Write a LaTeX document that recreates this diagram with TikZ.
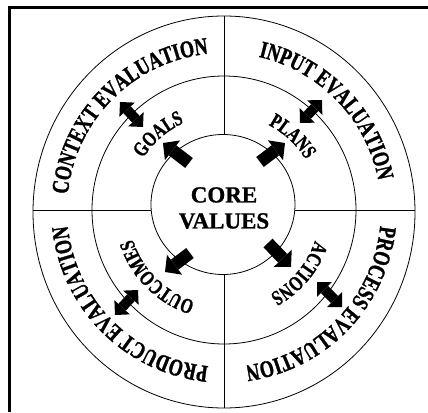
\documentclass[tikz,border=0pt]{standalone}
\usepackage{fontspec}
\setmainfont{Liberation Serif}
\newfontfamily\ringfont[FakeStretch=0.75, FakeBold=1.2]{Liberation Serif Bold}
\newfontfamily\corefont[FakeBold=1]{Liberation Serif Bold}
\usetikzlibrary{arrows.meta,decorations.text}
\DeclareRobustCommand\outerlabel{\ringfont\fontsize{24pt}{24pt}\selectfont}
\DeclareRobustCommand\innerlabel{\ringfont\fontsize{21pt}{21pt}\selectfont}

\begin{document}
\begin{tikzpicture}[x=1pt, y=1pt,
        ring/.style={line width=0.8pt},
        fatarrow/.style={line width=12.5pt, -{Triangle[width=25pt, length=12pt, line width=0pt]}},
        twoarrow/.style={line width=10pt, {Triangle[width=21pt, length=10.5pt, line width=0pt]}-{Triangle[width=21pt, length=10.5pt, line width=0pt]}},
        ringtext/.style={decorate, decoration={text along path, text align=center, text={#1}}}]
        \useasboundingbox (-224,-202) rectangle (204,210);
        \draw[line width=2.7pt] (-214.3,-202) -- (-214.3,202.2) -- (204,202.2);

        \draw[ring] (0,-2) ellipse [x radius=191, y radius=196];
        \draw[ring] (0,0) ellipse [x radius=132, y radius=134];
        \draw[ring] (-1,5.5) ellipse [x radius=72, y radius=70];
        \draw[ring] (0,75.5) -- (0,194);
        \draw[ring] (0,-64.5) -- (0,-198);
        \draw[ring] (-73,0) -- (-191,0);
        \draw[ring] (71,0) -- (191,0);

        \node[font=\corefont\fontsize{23pt}{26pt}\selectfont, align=center] (core) at (0,2) {CORE\\VALUES};

        \coordinate (goalsA) at (-35,47);
        \coordinate (goalsB) at (-61,67);
        \coordinate (plansA) at (36,48);
        \coordinate (plansB) at (61,67);
        \coordinate (actionsA) at (44,-33);
        \coordinate (actionsB) at (67,-57);
        \coordinate (outcomesA) at (-34,-43);
        \coordinate (outcomesB) at (-59,-62);
        \draw[fatarrow] (goalsA) -- (goalsB);
        \draw[fatarrow] (plansA) -- (plansB);
        \draw[fatarrow] (actionsA) -- (actionsB);
        \draw[fatarrow] (outcomesA) -- (outcomesB);

        \coordinate (contextA) at (-81,83);
        \coordinate (contextB) at (-104,108);
        \coordinate (inputA) at (76,87);
        \coordinate (inputB) at (98,110);
        \coordinate (processA) at (93,-72);
        \coordinate (processB) at (118,-97);
        \coordinate (productA) at (-86,-80);
        \coordinate (productB) at (-109,-105);
        \draw[twoarrow] (contextA) -- (contextB);
        \draw[twoarrow] (inputA) -- (inputB);
        \draw[twoarrow] (processA) -- (processB);
        \draw[twoarrow] (productA) -- (productB);

        \begin{scope}
        \outerlabel
        \path[ringtext=CONTEXT EVALUATION] (205:157) arc[start angle=205, end angle=65, radius=157];
        \path[ringtext=INPUT EVALUATION] (114:157) arc[start angle=114, end angle=-26, radius=157];
        \path[ringtext=PROCESS EVALUATION] (26:157) arc[start angle=26, end angle=-114, radius=157];
        \path[ringtext=PRODUCT EVALUATION] (-65:157) arc[start angle=-65, end angle=-205, radius=157];
        \end{scope}

        \begin{scope}
        \innerlabel
        \path[ringtext=GOALS] (201:96) arc[start angle=201, end angle=61, radius=96];
        \path[ringtext=PLANS] (117:96) arc[start angle=117, end angle=-23, radius=96];
        \path[ringtext=ACTIONS] (30:96) arc[start angle=30, end angle=-110, radius=96];
        \path[ringtext=OUTCOMES] (-65:96) arc[start angle=-65, end angle=-205, radius=96];
        \end{scope}
\end{tikzpicture}
\end{document}
